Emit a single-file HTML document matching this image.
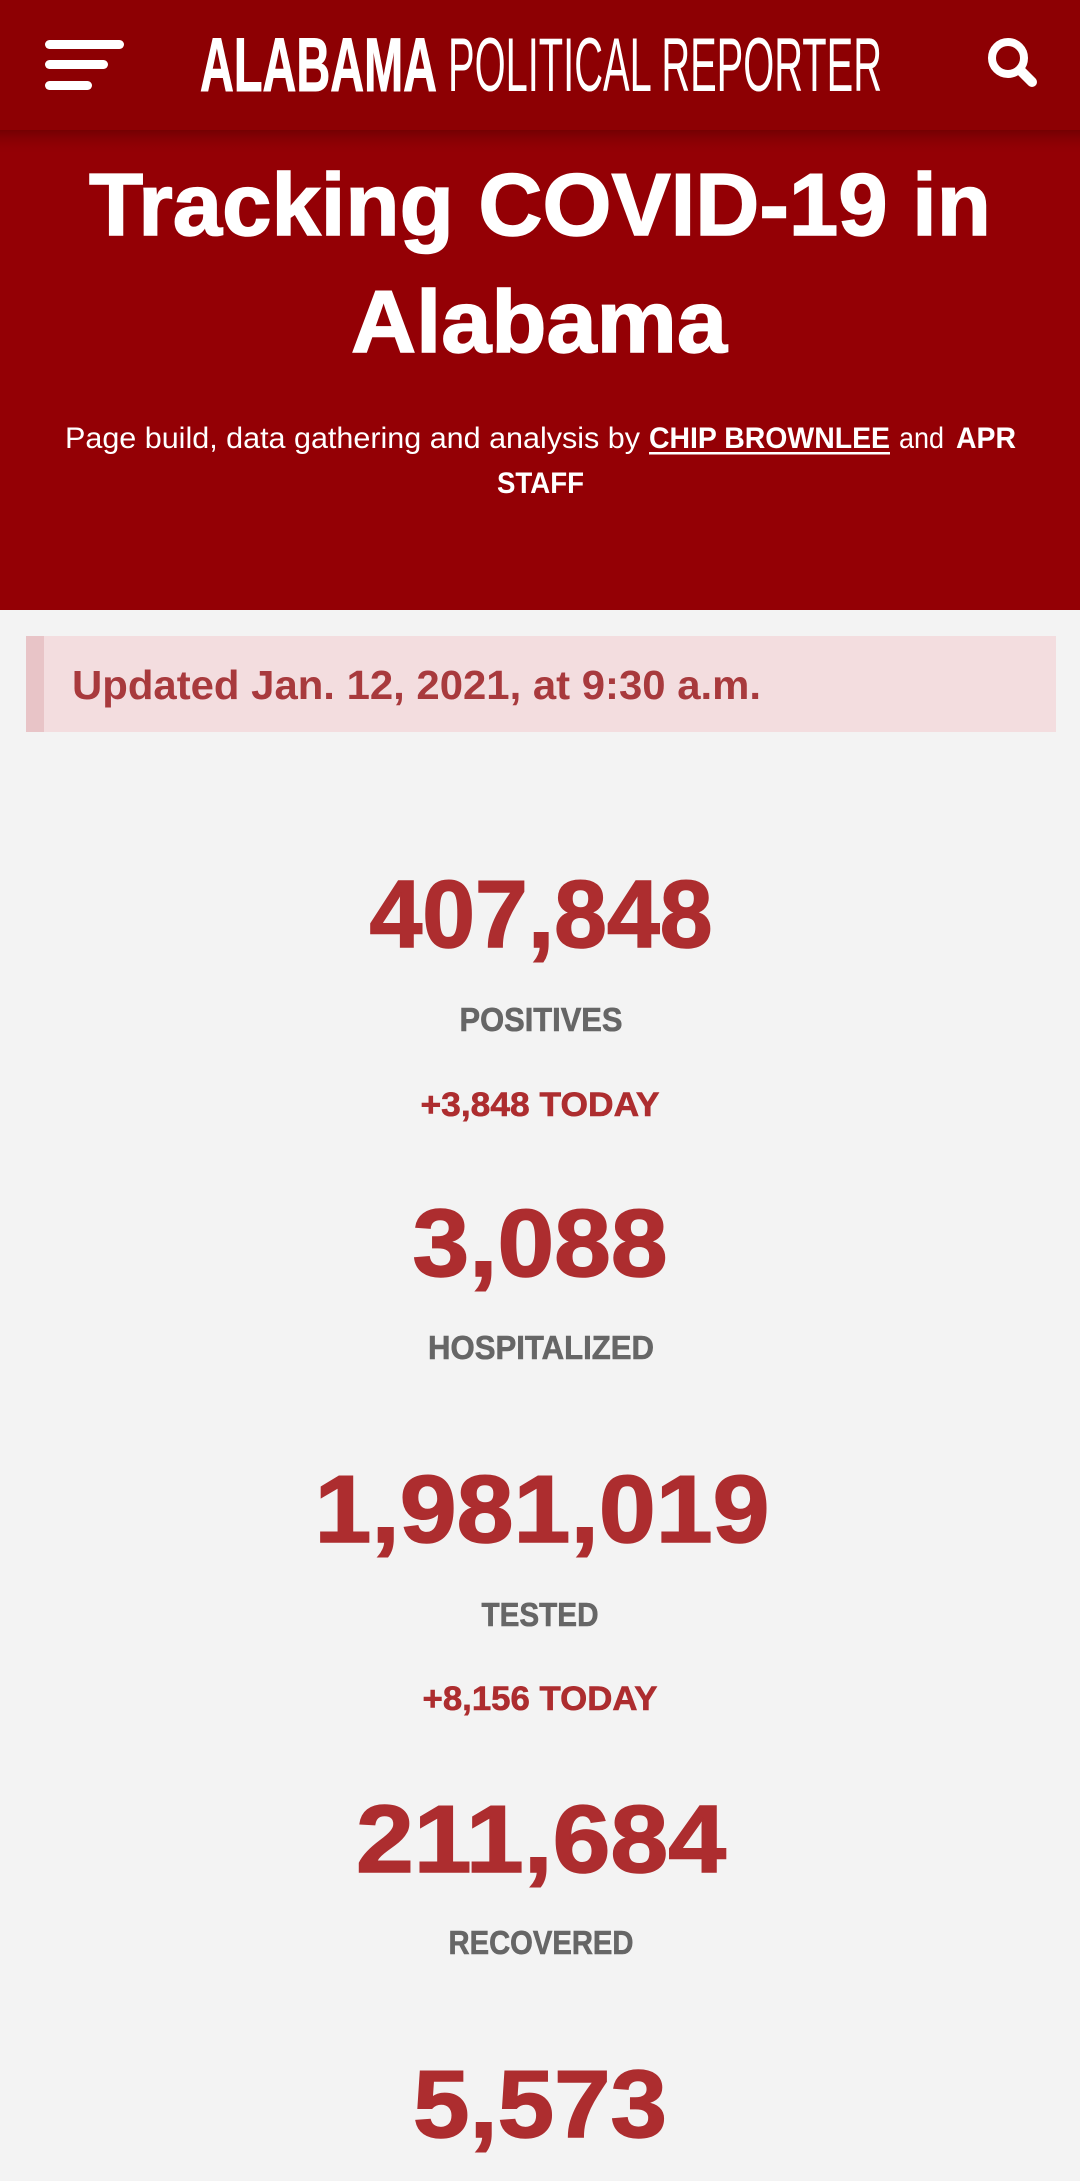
<!DOCTYPE html>
<html><head><meta charset="utf-8"><title>Tracking COVID-19 in Alabama</title>
<style>
html,body{margin:0;padding:0;background:#f3f3f3;}
svg{display:block;font-family:"Liberation Sans",sans-serif;}
</style></head>
<body>
<svg width="1080" height="2181" viewBox="0 0 1080 2181" xmlns="http://www.w3.org/2000/svg">
<defs>
<linearGradient id="sh" x1="0" y1="0" x2="0" y2="1">
<stop offset="0" stop-color="#5a0000" stop-opacity="0.55"/>
<stop offset="1" stop-color="#940005" stop-opacity="0"/>
</linearGradient>
</defs>
<rect x="0" y="0" width="1080" height="2181" fill="#f3f3f3"/>
<rect x="0" y="0" width="1080" height="610" fill="#940005"/>
<g>
<rect x="0" y="0" width="1080" height="130" fill="#8d0003"/>
<rect x="0" y="130" width="1080" height="26" fill="url(#sh)"/>
<g fill="#fff">
<rect x="45" y="40" width="79" height="9" rx="4.5"/>
<rect x="45" y="60" width="63" height="9" rx="4.5"/>
<rect x="45" y="81" width="47" height="9" rx="4.5"/>
</g>
<text x="200" y="91" font-size="76" font-weight="bold" fill="#fff" stroke="#fff" stroke-width="1" textLength="237" lengthAdjust="spacingAndGlyphs">ALABAMA</text>
<text x="448" y="91" font-size="76" font-weight="normal" fill="#fff" textLength="434" lengthAdjust="spacingAndGlyphs">POLITICAL REPORTER</text>
<g stroke="#fff" fill="none" stroke-linecap="round">
<circle cx="1008" cy="58" r="16" stroke-width="8"/>
<line x1="1021" y1="71" x2="1032" y2="82" stroke-width="10"/>
</g>
</g>
<g fill="#fff" stroke="#fff" stroke-width="1.5" font-size="88" font-weight="bold" text-anchor="middle">
<text x="540" y="235" textLength="902" lengthAdjust="spacingAndGlyphs">Tracking COVID-19 in</text>
<text x="539" y="352" textLength="376" lengthAdjust="spacingAndGlyphs">Alabama</text>
</g>
<g fill="#fff" font-size="30">
<text x="65" y="448" textLength="575" lengthAdjust="spacingAndGlyphs">Page build, data gathering and analysis by</text>
<text x="649" y="448" font-weight="bold" textLength="241" lengthAdjust="spacingAndGlyphs">CHIP BROWNLEE</text>
<rect x="649" y="452" width="241" height="2.5"/>
<text x="899" y="448" textLength="45" lengthAdjust="spacingAndGlyphs">and</text>
<text x="956" y="448" font-weight="bold" textLength="60" lengthAdjust="spacingAndGlyphs">APR</text>
<text x="497" y="493" font-weight="bold" textLength="87" lengthAdjust="spacingAndGlyphs">STAFF</text>
</g>
<g>
<rect x="26" y="636" width="1030" height="96" fill="#f3dddf"/>
<rect x="26" y="636" width="18" height="96" fill="#e8c4c7"/>
<text x="72" y="699" font-size="41" font-weight="bold" fill="#a83a3d" textLength="689" lengthAdjust="spacingAndGlyphs">Updated Jan. 12, 2021, at 9:30 a.m.</text>
</g>
<g font-weight="bold" text-anchor="middle">
<g fill="#ad2d2f" stroke="#ad2d2f" stroke-width="1.5">
<text x="541" y="947" font-size="96" textLength="343" lengthAdjust="spacingAndGlyphs">407,848</text>
<text x="540" y="1276" font-size="96" textLength="255" lengthAdjust="spacingAndGlyphs">3,088</text>
<text x="542" y="1542" font-size="96" textLength="455" lengthAdjust="spacingAndGlyphs">1,981,019</text>
<text x="541" y="1872" font-size="96" textLength="370" lengthAdjust="spacingAndGlyphs">211,684</text>
<text x="540" y="2137" font-size="96" textLength="254" lengthAdjust="spacingAndGlyphs">5,573</text>
</g>
<g fill="#666" stroke="#666" stroke-width="0.6" font-size="33">
<text x="541" y="1031" textLength="163" lengthAdjust="spacingAndGlyphs">POSITIVES</text>
<text x="541" y="1359" textLength="226" lengthAdjust="spacingAndGlyphs">HOSPITALIZED</text>
<text x="540" y="1626" textLength="117" lengthAdjust="spacingAndGlyphs">TESTED</text>
<text x="541" y="1954" textLength="185" lengthAdjust="spacingAndGlyphs">RECOVERED</text>
</g>
<g fill="#ad2d2f" stroke="#ad2d2f" stroke-width="0.6" font-size="34">
<text x="540" y="1116" textLength="239" lengthAdjust="spacingAndGlyphs">+3,848 TODAY</text>
<text x="540" y="1710" textLength="235" lengthAdjust="spacingAndGlyphs">+8,156 TODAY</text>
</g>
</g>
</svg>
</body></html>
